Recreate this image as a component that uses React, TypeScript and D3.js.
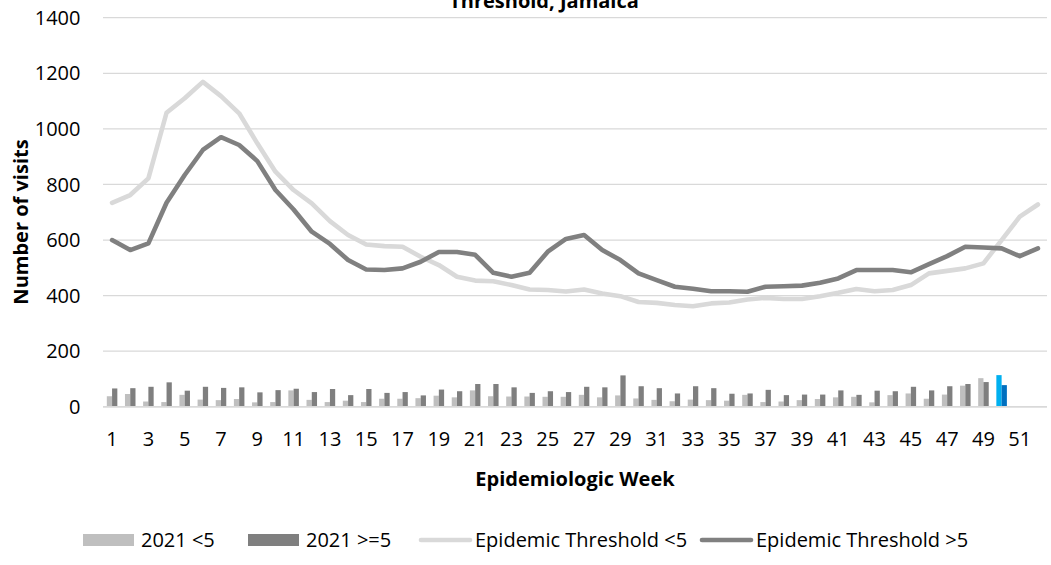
import React from "react";
import * as d3 from "d3";

// ---- Data ----
const weeks: number[] = [
  1, 2, 3, 4, 5, 6, 7, 8, 9, 10, 11, 12, 13, 14, 15, 16, 17, 18, 19, 20, 21, 22, 23, 24, 25, 26,
  27, 28, 29, 30, 31, 32, 33, 34, 35, 36, 37, 38, 39, 40, 41, 42, 43, 44, 45, 46, 47, 48, 49, 50, 51, 52,
];

// 2021 visits, age < 5 (weeks 1-50)
const visitsUnder5: number[] = [
  38, 46, 19, 17, 43, 26, 24, 28, 16, 17, 59, 25, 17, 22, 17, 29, 29, 31, 40, 34, 59, 38, 37, 37, 36,
  36, 43, 34, 41, 30, 25, 20, 26, 24, 22, 43, 17, 19, 24, 28, 34, 36, 16, 42, 48, 29, 44, 76, 103, 114,
];

// 2021 visits, age >= 5 (weeks 1-50)
const visitsOver5: number[] = [
  66, 67, 72, 88, 58, 72, 68, 70, 52, 60, 65, 53, 64, 42, 64, 50, 53, 41, 62, 56, 82, 82, 70, 50, 56,
  53, 72, 70, 113, 74, 67, 48, 74, 67, 47, 48, 61, 42, 44, 44, 59, 43, 58, 56, 72, 59, 74, 82, 89, 78,
];

// Epidemic threshold < 5 (weeks 1-52)
const thresholdUnder5: number[] = [
  734, 762, 822, 1058, 1110, 1169, 1118, 1056, 948, 846, 780, 732, 668, 618, 584, 578, 576, 540, 510,
  468, 454, 452, 438, 422, 420, 415, 422, 408, 398, 377, 374, 366, 362, 372, 375, 386, 392, 388, 388,
  398, 410, 424, 416, 420, 438, 480, 489, 498, 516, 600, 684, 728,
];

// Epidemic threshold > 5 (weeks 1-52)
const thresholdOver5: number[] = [
  600, 564, 588, 734, 834, 924, 970, 942, 884, 780, 710, 630, 586, 528, 494, 492, 498, 522, 557, 557,
  547, 482, 468, 482, 558, 604, 618, 564, 528, 480, 456, 432, 425, 416, 416, 414, 432, 434, 436, 446,
  462, 492, 492, 492, 484, 513, 542, 576, 573, 570, 542, 570,
];

const yTicks: number[] = [0, 200, 400, 600, 800, 1000, 1200, 1400];
const xTickLabels: number[] = [1, 3, 5, 7, 9, 11, 13, 15, 17, 19, 21, 23, 25, 27, 29, 31, 33, 35, 37, 39, 41, 43, 45, 47, 49, 51];
const currentWeek = 50;

const seriesNames = ["2021 <5", "2021 >=5", "Epidemic Threshold <5", "Epidemic Threshold >5"];

// ---- Styles ----
const W = 1051;
const H = 565;
const FONT = "'Open Sans', 'Noto Sans', sans-serif";
const C_BAR_LIGHT = "#BFBFBF";
const C_BAR_DARK = "#7F7F7F";
const C_LINE_LIGHT = "#D9D9D9";
const C_LINE_DARK = "#808080";
const C_HL_LIGHT = "#00B0F0";
const C_HL_DARK = "#0070C0";
const C_GRID = "#D9D9D9";

export default function App() {
  const left = 103;
  const right = 1047;
  const top = 17.7;
  const bottom = 406.8;

  const x = d3
    .scaleBand<number>()
    .domain(weeks)
    .range([left, right])
    .paddingInner(0.42)
    .paddingOuter(0.21);
  const inner = d3.scaleBand<number>().domain([0, 1]).range([0, x.bandwidth()]).padding(0);
  const y = d3.scaleLinear().domain([0, 1400]).range([bottom, top]);

  const cx = (w: number) => (x(w) as number) + x.bandwidth() / 2;

  const line = d3
    .line<number>()
    .x((_, i) => cx(weeks[i]))
    .y((d) => y(d));

  const legendItems = [
    { kind: "bar", color: C_BAR_LIGHT, sx: 83, tx: 141 },
    { kind: "bar", color: C_BAR_DARK, sx: 248, tx: 306 },
    { kind: "line", color: C_LINE_LIGHT, sx: 419, tx: 475 },
    { kind: "line", color: C_LINE_DARK, sx: 700, tx: 756 },
  ];
  const legendY = 540;

  return (
    <svg
      width={W}
      height={H}
      viewBox={`0 0 ${W} ${H}`}
      style={{ position: "fixed", left: 0, top: 0, background: "#fff" }}
      fontFamily={FONT}
    >
      <rect x={0} y={0} width={W} height={H} fill="#fff" />

      {/* Title (first line cropped off the top) */}
      <text x={544} y={8} textAnchor="middle" fontSize={20} fontWeight="bold" fill="#000">
        Threshold, Jamaica
      </text>

      {/* Gridlines */}
      {yTicks.map((t) => (
        <line key={"g" + t} x1={left} x2={right} y1={y(t)} y2={y(t)} stroke={C_GRID} strokeWidth={1.2} />
      ))}

      {/* Y tick labels */}
      {yTicks.map((t) => (
        <text key={"yl" + t} x={80.5} y={y(t)} dy="0.36em" textAnchor="end" fontSize={20} fill="#000">
          {t}
        </text>
      ))}

      {/* Bars */}
      {visitsUnder5.map((v, i) => {
        const w = weeks[i];
        return (
          <rect
            key={"b1" + w}
            x={(x(w) as number) + (inner(0) as number)}
            y={y(v)}
            width={inner.bandwidth()}
            height={y(0) - y(v)}
            fill={w === currentWeek ? C_HL_LIGHT : C_BAR_LIGHT}
          />
        );
      })}
      {visitsOver5.map((v, i) => {
        const w = weeks[i];
        return (
          <rect
            key={"b2" + w}
            x={(x(w) as number) + (inner(1) as number)}
            y={y(v)}
            width={inner.bandwidth()}
            height={y(0) - y(v)}
            fill={w === currentWeek ? C_HL_DARK : C_BAR_DARK}
          />
        );
      })}

      {/* Lines */}
      <path d={line(thresholdUnder5) || ""} fill="none" stroke={C_LINE_LIGHT} strokeWidth={4.6} strokeLinejoin="round" strokeLinecap="round" />
      <path d={line(thresholdOver5) || ""} fill="none" stroke={C_LINE_DARK} strokeWidth={4.6} strokeLinejoin="round" strokeLinecap="round" />

      {/* X axis line */}
      <line x1={left} x2={right} y1={y(0)} y2={y(0)} stroke={C_GRID} strokeWidth={1.5} />

      {/* X tick labels */}
      {xTickLabels.map((t) => (
        <text key={"xl" + t} x={cx(t)} y={446} textAnchor="middle" fontSize={20} fill="#000">
          {t}
        </text>
      ))}

      {/* Axis titles */}
      <text x={575} y={486} textAnchor="middle" fontSize={20} fontWeight="bold" fill="#000">
        Epidemiologic Week
      </text>
      <text
        transform={`translate(28, 222) rotate(-90)`}
        textAnchor="middle"
        fontSize={20}
        fontWeight="bold"
        fill="#000"
      >
        Number of visits
      </text>

      {/* Legend */}
      {legendItems.map((it, i) => (
        <g key={"lg" + i}>
          {it.kind === "bar" ? (
            <rect x={it.sx} y={legendY - 6} width={51} height={12} fill={it.color} />
          ) : (
            <line x1={it.sx + 2} x2={it.sx + 51} y1={legendY} y2={legendY} stroke={it.color} strokeWidth={4.6} strokeLinecap="round" />
          )}
          <text x={it.tx} y={legendY} dy="0.36em" fontSize={20} fill="#000">
            {seriesNames[i]}
          </text>
        </g>
      ))}
    </svg>
  );
}
